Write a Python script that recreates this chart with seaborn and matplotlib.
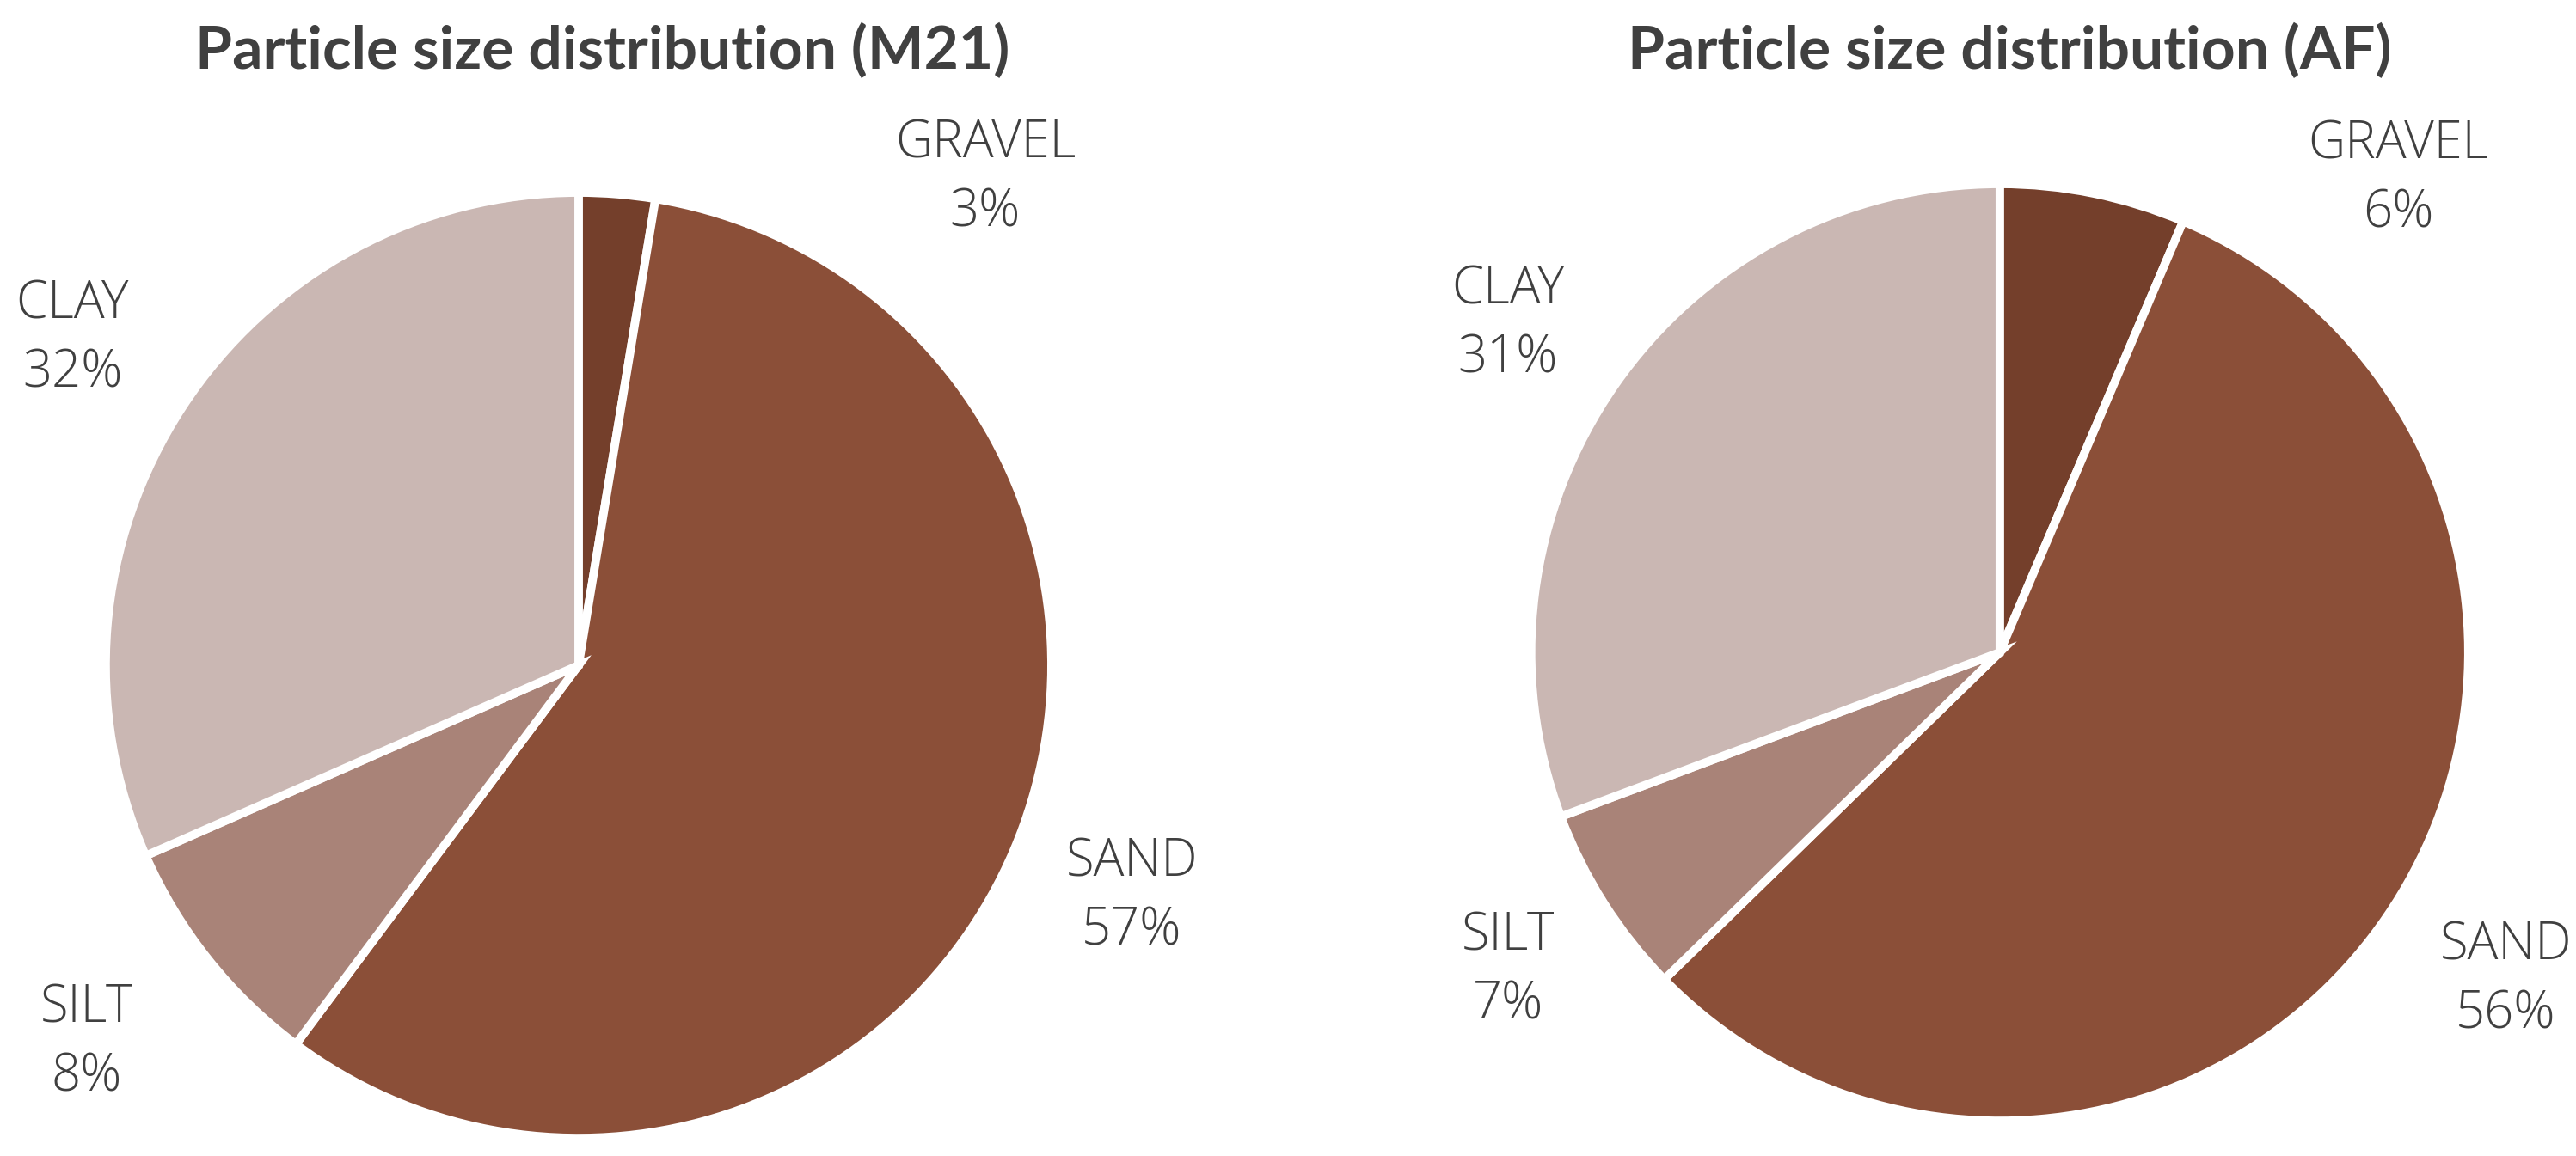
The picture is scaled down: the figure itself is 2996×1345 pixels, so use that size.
import matplotlib
matplotlib.use("Agg")
import matplotlib.pyplot as plt
import seaborn as sns

# ====== DATA ======
categories = ["GRAVEL", "SAND", "SILT", "CLAY"]
m21_values = [2.6, 57.6, 8.2, 31.6]
af_values = [6.4, 56.3, 6.6, 30.7]
m21_pct = ["3%", "57%", "8%", "32%"]
af_pct = ["6%", "56%", "7%", "31%"]
colors = ["#743f2b", "#8b4f38", "#a98378", "#cab7b3"]

# label spots around each pie (in pie-radius units)
m21_label_pos = [(0.86, 1.03), (1.17, -0.49), (-1.04, -0.80), (-1.07, 0.69)]
af_label_pos = [(0.85, 1.01), (1.08, -0.70), (-1.05, -0.68), (-1.05, 0.70)]

sns.set_theme(style="white")
plt.rcParams["font.family"] = ["Lato", "DejaVu Sans"]
text_col = "#404040"

fig = plt.figure(figsize=(14.98, 6.725), dpi=200)


def draw_pie(rect, values, pct, label_pos, title, title_x):
    ax = fig.add_axes(rect)
    ax.pie(values, colors=colors, startangle=90, counterclock=False, radius=1,
           wedgeprops=dict(edgecolor="white", linewidth=3.5))
    for name, p, (x, y) in zip(categories, pct, label_pos):
        ax.text(x, y, f"{name}\n{p}", ha="center", va="center", fontsize=21.5,
                color=text_col, fontweight="light", linespacing=1.4,
                family=["Open Sans", "DejaVu Sans"])
    ax.set_xlim(-1.2, 1.2)
    ax.set_ylim(-1.2, 1.2)
    ax.set_aspect("equal")
    ax.axis("off")
    fig.text(title_x, 0.956, title, ha="center", va="center", fontsize=25,
             fontweight="bold", color=text_col)


draw_pie([0.0043, -0.0662, 0.4406, 0.9814], m21_values, m21_pct, m21_label_pos,
         "Particle size distribution (M21)", 0.234)
draw_pie([0.558, -0.0506, 0.4366, 0.9725], af_values, af_pct, af_label_pos,
         "Particle size distribution (AF)", 0.780)

fig.savefig("out.png", dpi=200)
plt.close()
